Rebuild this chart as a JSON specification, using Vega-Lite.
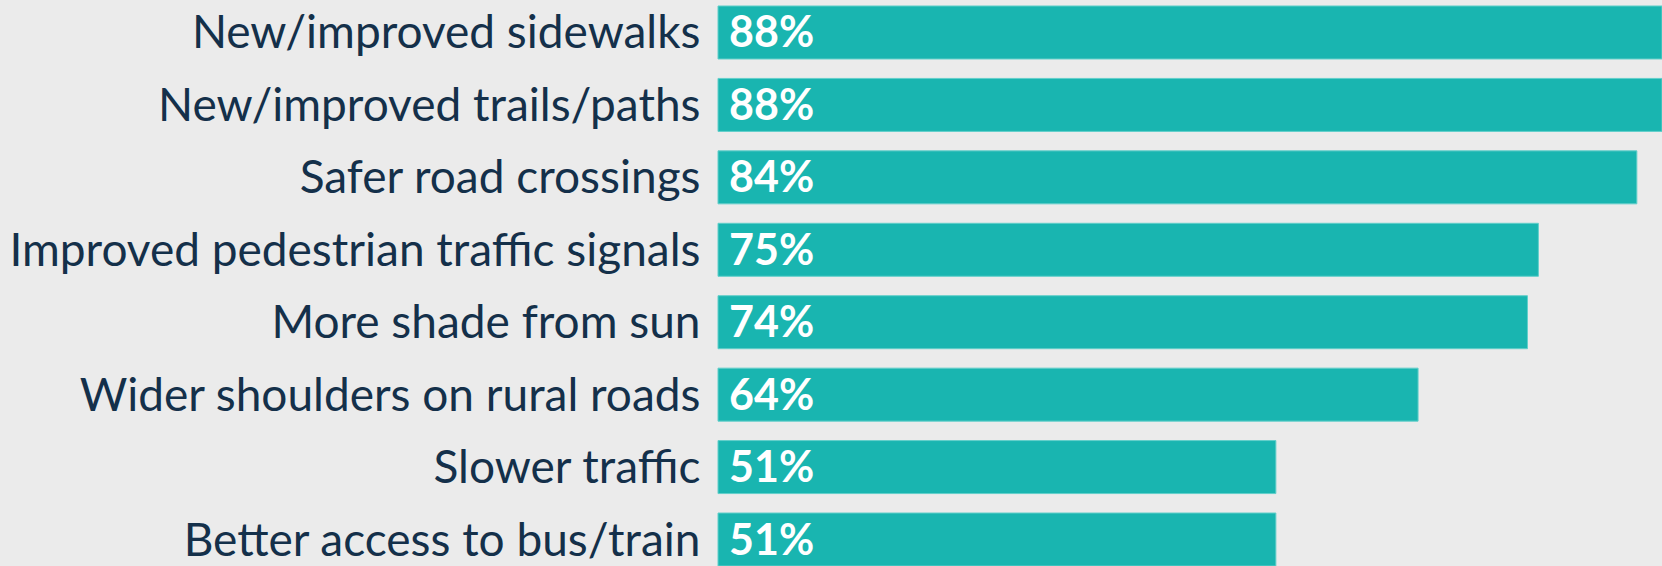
{
  "$schema": "https://vega.github.io/schema/vega-lite/v6.json",
  "width": 944,
  "height": 566,
  "autosize": {"type": "none"},
  "padding": {"left": 718, "top": 0, "right": 0, "bottom": 0},
  "background": "#ebebeb",
  "config": {"view": {"stroke": null}},
  "data": {
    "values": [
      {"item": "New/improved sidewalks", "pct": 0.88},
      {"item": "New/improved trails/paths", "pct": 0.88},
      {"item": "Safer road crossings", "pct": 0.84},
      {"item": "Improved pedestrian traffic signals", "pct": 0.75},
      {"item": "More shade from sun", "pct": 0.74},
      {"item": "Wider shoulders on rural roads", "pct": 0.64},
      {"item": "Slower traffic", "pct": 0.51},
      {"item": "Better access to bus/train", "pct": 0.51}
    ]
  },
  "encoding": {
    "y": {
      "field": "item",
      "type": "nominal",
      "sort": null,
      "scale": {"paddingInner": 0.2683, "paddingOuter": 0.0414, "align": 1},
      "axis": {
        "title": null,
        "domain": false,
        "ticks": false,
        "labelFont": "Lato",
        "labelFontSize": 46,
        "labelColor": "#14304a",
        "labelPadding": 18,
        "labelLimit": 900,
        "labelBaseline": "middle",
        "labelOffset": 2
      }
    }
  },
  "layer": [
    {
      "mark": {"type": "bar", "color": "#19b5b0", "stroke": "#62cfca", "strokeWidth": 1},
      "encoding": {
        "x": {
          "field": "pct",
          "type": "quantitative",
          "scale": {"domain": [0, 0.863], "clamp": true, "nice": false, "zero": true},
          "axis": null
        }
      }
    },
    {
      "mark": {"type": "text", "align": "left", "baseline": "middle", "dx": 11, "dy": 2, "color": "white", "font": "Lato", "fontWeight": "bold", "fontSize": 43},
      "encoding": {
        "x": {"datum": 0, "type": "quantitative"},
        "text": {"field": "pct", "format": ".0%"}
      }
    }
  ]
}
